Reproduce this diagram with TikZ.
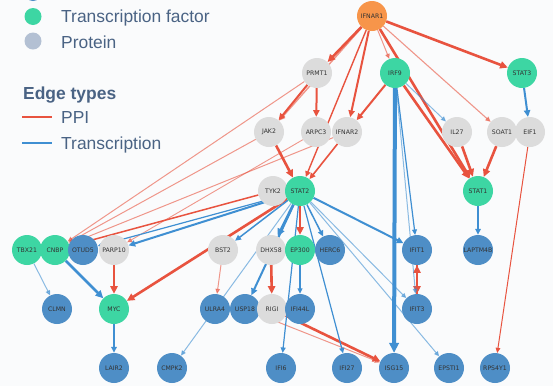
\documentclass[tikz,border=0pt]{standalone}
\usepackage{fontspec}
\setmainfont{Liberation Sans}
\newfontfamily\lblfont{DejaVu Sans}
\usetikzlibrary{arrows.meta}
\pgfdeclarelayer{back}
\pgfdeclarelayer{bg}
\pgfsetlayers{back,bg,main}
\definecolor{ppi}{HTML}{E8533F}
\definecolor{trc}{HTML}{3F8FD2}
\definecolor{cOr}{HTML}{F7954A}
\definecolor{cTF}{HTML}{3DD6A3}
\definecolor{cTG}{HTML}{4E8EC6}
\definecolor{cPr}{HTML}{DCDCDC}
\definecolor{cLeg}{HTML}{B3C0D3}
\definecolor{txt}{HTML}{4A6384}
\definecolor{bgc}{HTML}{FAFBFC}
\begin{document}
\begin{tikzpicture}[x=1bp,y=-1bp,
  nd/.style={circle,minimum size=30bp,inner sep=0pt,font=\lblfont\fontsize{6.2}{7}\selectfont,text=black!80},
  org/.style={nd,fill=cOr}, tf/.style={nd,fill=cTF}, tg/.style={nd,fill=cTG}, pr/.style={nd,fill=cPr},
  ar/.style={-{Triangle[length=3.5bp 1.6,width=3bp 1.6]}},
  pp/.style={ar,draw=ppi,line width=#1},
  tr/.style={ar,draw=trc,line width=#1},
  lt/.style={opacity=0.6},
  legc/.style={circle,minimum size=17bp,inner sep=0pt},
  legt/.style={anchor=base west,inner sep=0pt,text=txt,font=\fontsize{17.5}{20}\selectfont},
]
\useasboundingbox (0,0) rectangle (553,386);
\begin{pgfonlayer}{back}
\fill[bgc] (0,0) rectangle (553,386);
\end{pgfonlayer}
% legend
\node[legc,fill=cTG] (l0) at (33,-7.5) {};
\node[legc,fill=cTF] (l1) at (33,16.5) {};
\node[legc,fill=cLeg] (l2) at (33,41) {};
\node[legt] (t1) at (61,22.5) {Transcription factor};
\node[legt] (t2) at (61,48) {Protein};
\node[legt,font=\bfseries\fontsize{17.5}{20}\selectfont] (t3) at (23,99) {Edge types};
\coordinate (p1) at (22,117); \coordinate (p2) at (52,117);
\coordinate (q1) at (22,143); \coordinate (q2) at (52,143);
\draw[ppi,line width=2.6bp] (p1) -- (p2);
\draw[trc,line width=2.6bp] (q1) -- (q2);
\node[legt] (t4) at (61,123) {PPI};
\node[legt] (t5) at (61,149) {Transcription};
% nodes
\node[org] (IFNAR1) at (372,16) {IFNAR1};
\node[pr] (PRMT1) at (317,73) {PRMT1};
\node[tf] (IRF9) at (395,73) {IRF9};
\node[tf] (STAT3) at (522,73) {STAT3};
\node[pr] (JAK2) at (269,132) {JAK2};
\node[pr] (ARPC3) at (316,132) {ARPC3};
\node[pr] (IFNAR2) at (347,132) {IFNAR2};
\node[pr] (IL27) at (457,132) {IL27};
\node[pr] (SOAT1) at (502,132) {SOAT1};
\node[pr] (EIF1) at (530,132) {EIF1};
\node[pr] (TYK2) at (273,191) {TYK2};
\node[tf] (STAT2) at (300,191) {STAT2};
\node[tf] (STAT1) at (478,191) {STAT1};
\node[tf] (TBX21) at (27,250) {TBX21};
\node[tf] (CNBP) at (55,250) {CNBP};
\node[tg] (OTUD5) at (83,250) {OTUD5};
\node[pr] (PARP10) at (114,250) {PARP10};
\node[pr] (BST2) at (223,250) {BST2};
\node[pr] (DHX58) at (271,250) {DHX58};
\node[tf] (EP300) at (300,250) {EP300};
\node[tg] (HERC6) at (330,250) {HERC6};
\node[tg] (IFIT1) at (417,250) {IFIT1};
\node[tg] (LAPTM4B) at (478,250) {LAPTM4B};
\node[tg] (CLMN) at (57,309) {CLMN};
\node[tf] (MYC) at (114,309) {MYC};
\node[tg] (ULRA4) at (215,309) {ULRA4};
\node[tg] (USP18) at (245,309) {USP18};
\node[pr] (RIGI) at (272,309) {RIGI};
\node[tg] (IFI44L) at (300,309) {IFI44L};
\node[tg] (IFIT3) at (417,309) {IFIT3};
\node[tg] (LAIR2) at (114,368) {LAIR2};
\node[tg] (CMPK2) at (172,368) {CMPK2};
\node[tg] (IFI6) at (281,368) {IFI6};
\node[tg] (IFI27) at (347,368) {IFI27};
\node[tg] (ISG15) at (394,368) {ISG15};
\node[tg] (EPSTI1) at (449,368) {EPSTI1};
\node[tg] (RPS4Y1) at (495,368) {RPS4Y1};
% edges
\begin{pgfonlayer}{bg}
% PPI
\draw[pp=2.6bp] (IFNAR1) -- (PRMT1);
\draw[pp=1.4bp,lt] (IFNAR1) -- (JAK2);
\draw[pp=1bp,lt] (IFNAR1) -- (IRF9);
\draw[pp=2bp] (IFNAR1) -- (IFNAR2);
\draw[pp=1.4bp] (IFNAR1) -- (STAT2);
\draw[pp=2.6bp] (IFNAR1) -- (STAT1);
\draw[pp=1.1bp,lt] (IFNAR1) -- (SOAT1);
\draw[pp=2.6bp] (IFNAR1) -- (STAT3);
\draw[pp=2bp] (PRMT1) -- (JAK2);
\draw[pp=2bp] (PRMT1) -- (ARPC3);
\draw[pp=1bp,lt] (PRMT1) -- (CNBP);
\draw[pp=2bp] (IRF9) -- (IFNAR2);
\draw[pp=2.6bp] (IRF9) -- (STAT1);
\draw[pp=2.6bp] (JAK2) -- (STAT2);
\draw[pp=1bp,lt] (JAK2) -- (CNBP);
\draw[pp=0.9bp,lt] (ARPC3) -- (PARP10);
\draw[pp=1.6bp] (IFNAR2) -- (STAT2);
\draw[pp=1bp,lt] (IFNAR2) -- (CNBP);
\draw[pp=1.5bp] (TYK2) -- (CNBP);
\draw[pp=2.6bp] (IL27) -- (STAT1);
\draw[pp=2.6bp] (SOAT1) -- (STAT1);
\draw[pp=1bp] (EIF1) -- (RPS4Y1);
\draw[pp=2.6bp] (STAT2) -- (EP300);
\draw[pp=2.6bp] (STAT2) -- (MYC);
\draw[pp=2.6bp] (PARP10) -- (MYC);
\draw[pp=1bp,lt] (BST2) -- (ULRA4);
\draw[pp=2.6bp] (DHX58) -- (RIGI);
\draw[pp=2.6bp] (IFIT1) -- (IFIT3);
\draw[pp=2.6bp] (IFIT3) -- (IFIT1);
\draw[pp=2.6bp] (RIGI) -- (ISG15);
\draw[pp=1bp,lt] (USP18) -- (ISG15);
% transcription
\draw[tr=2bp] (STAT3) -- (EIF1);
\draw[tr=1bp,lt] (IRF9) -- (IL27);
\draw[tr=4bp] (IRF9) -- (ISG15);
\draw[tr=1.2bp] (IRF9) -- (IFIT1);
\draw[tr=1bp,lt] (IRF9) -- (IFIT3);
\draw[tr=1.5bp] (STAT1) -- (LAPTM4B);
\draw[tr=2bp] (STAT2) -- (PARP10);
\draw[tr=1.2bp] (STAT2) -- (OTUD5);
\draw[tr=1.5bp] (STAT2) -- (BST2);
\draw[tr=2.6bp] (STAT2) -- (DHX58);
\draw[tr=1.5bp] (STAT2) -- (HERC6);
\draw[tr=2bp] (STAT2) -- (IFIT1);
\draw[tr=1bp,lt] (STAT2) -- (IFIT3);
\draw[tr=1bp,lt] (STAT2) -- (EPSTI1);
\draw[tr=1.2bp] (STAT2) -- (IFI27);
\draw[tr=1.2bp] (STAT2) -- (IFI6);
\draw[tr=2bp] (STAT2) -- (USP18);
\draw[tr=1bp,lt] (STAT2) -- (CMPK2);
\draw[tr=1.2bp] (EP300) -- (IFI44L);
\draw[tr=2.6bp] (CNBP) -- (MYC);
\draw[tr=1bp,lt] (TBX21) -- (CLMN);
\draw[tr=1.5bp] (MYC) -- (LAIR2);
\end{pgfonlayer}
\end{tikzpicture}
\end{document}
